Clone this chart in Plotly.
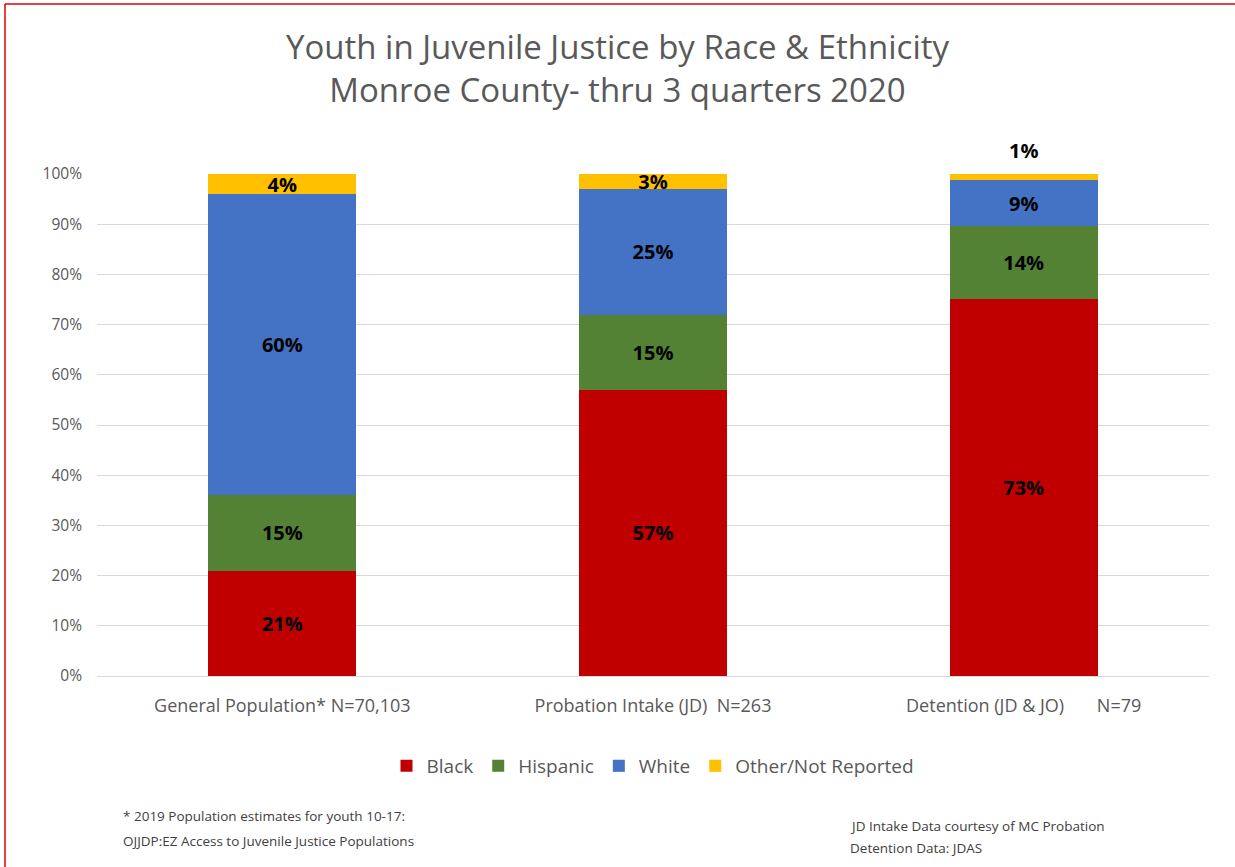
import plotly.graph_objects as go

categories = ["General Population* N=70,103",
              "Probation Intake (JD)\u00a0\u00a0N=263",
              "Detention (JD & JO)\u00a0\u00a0\u00a0\u00a0\u00a0\u00a0\u00a0N=79"]
series_names = ["Black", "Hispanic", "White", "Other/Not Reported"]
black_vals = [21, 57, 75.2]
hispanic_vals = [15, 15, 14.4]
white_vals = [60, 25, 9.2]
other_vals = [4, 3, 1.2]
black_labels = ["21%", "57%", "73%"]
hispanic_labels = ["15%", "15%", "14%"]
white_labels = ["60%", "25%", "9%"]
other_labels = ["4%", "3%", "1%"]
y_ticks = [0, 10, 20, 30, 40, 50, 60, 70, 80, 90, 100]
y_tick_labels = [f"{v}%" for v in y_ticks]
footnote_left = ["* 2019 Population estimates for youth 10-17:",
                 "OJJDP:EZ Access to Juvenile Justice Populations"]
footnote_right = ["JD Intake Data courtesy of MC Probation",
                  "Detention Data: JDAS"]

colors = ["#C00000", "#548235", "#4472C4", "#FFC000"]
values = [black_vals, hispanic_vals, white_vals, other_vals]
labels = [black_labels, hispanic_labels, white_labels, other_labels]

W, H = 1235, 867
ML, MR, MT, MB = 97, 26, 174, 191
PW, PH = W - ML - MR, H - MT - MB

FONT = "Open Sans, Noto Sans, sans-serif"
LABEL_FONT = dict(family=FONT, size=20, color="#000000", weight="bold")

fig = go.Figure()
annotations = []
for i, name in enumerate(series_names):
    txt = list(labels[i])
    if i == 3:
        # the thin top segment of the last bar gets its label above the bar
        annotations.append(dict(x=categories[2], y=sum(v[2] for v in values),
                                xref="x", yref="y", text=txt[2], showarrow=False,
                                yanchor="bottom", yshift=8, font=LABEL_FONT))
        txt[2] = ""
    fig.add_trace(go.Bar(
        x=categories, y=values[i], name=name,
        marker=dict(color=colors[i], line=dict(width=0)),
        text=txt, textposition="inside",
        insidetextanchor="middle",
        constraintext="none",
        textfont=LABEL_FONT,
        cliponaxis=False,
        hoverinfo="skip",
    ))

def px_x(px):
    return (px - ML) / PW

def px_y(py):
    return (H - MB - py) / PH

for j, line in enumerate(footnote_left):
    annotations.append(dict(text=line, xref="paper", yref="paper", x=px_x(121),
                            y=px_y(816 + 25 * j), xanchor="left", yanchor="middle",
                            showarrow=False, font=dict(family=FONT, size=13.5, color="#404040")))
for j, line in enumerate(footnote_right):
    annotations.append(dict(text=line, xref="paper", yref="paper", x=px_x(848),
                            y=px_y(826 + 22 * j), xanchor="left", yanchor="middle",
                            showarrow=False, font=dict(family=FONT, size=13.5, color="#404040")))

fig.update_layout(
    width=W, height=H,
    barmode="stack", bargap=0.6,
    margin=dict(l=ML, r=MR, t=MT, b=MB),
    paper_bgcolor="white", plot_bgcolor="white",
    title=dict(text="Youth in Juvenile Justice by Race & Ethnicity<br>Monroe County- thru 3 quarters 2020",
               x=0.5, xanchor="center", y=1 - 59 / H, yanchor="middle",
               font=dict(family=FONT, size=33, color="#595959")),
    font=dict(family=FONT, color="#595959"),
    showlegend=True,
    legend=dict(orientation="h", x=0.5, xanchor="center",
                y=px_y(766), yanchor="middle",
                font=dict(family=FONT, size=19, color="#595959"),
                itemwidth=30, traceorder="normal"),
    xaxis=dict(showline=False, ticks="", tickfont=dict(family=FONT, size=18, color="#595959"),
               ticklabelstandoff=17, showgrid=False),
    yaxis=dict(range=[0, 100], tickvals=y_ticks, ticktext=y_tick_labels,
               showgrid=True, gridcolor="#D9D9D9", gridwidth=1,
               zeroline=True, zerolinecolor="#D9D9D9", zerolinewidth=1,
               showline=False, ticks="",
               tickfont=dict(family=FONT, size=15.5, color="#595959"),
               ticklabelstandoff=14),
    shapes=[
        dict(type="line", xref="paper", yref="paper",
             x0=px_x(5), x1=px_x(5), y0=px_y(4), y1=px_y(H + 5),
             line=dict(color="#E00000", width=1.5)),
        dict(type="line", xref="paper", yref="paper",
             x0=px_x(5), x1=px_x(W + 5), y0=px_y(4), y1=px_y(4),
             line=dict(color="#E00000", width=1.5)),
    ],
    annotations=annotations,
)

fig.write_html("out.html", config={"displayModeBar": False},
               post_script="document.body.style.margin='0';document.body.style.overflow='hidden';")
